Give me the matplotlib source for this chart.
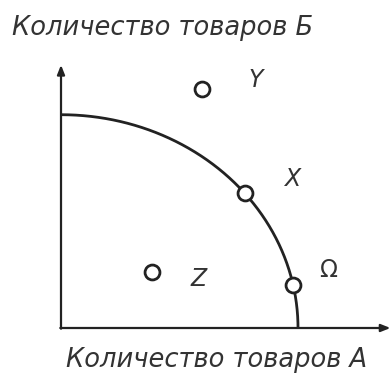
import matplotlib
matplotlib.use("Agg")
import matplotlib.pyplot as plt
import numpy as np

# Кривая производственных возможностей: максимум товара А и товара Б
max_a = 10.0
max_b = 9.0

# Точки на графике
point_names = ["Y", "X", "Z", "Ω"]
point_a = [5.95, 7.75, 3.85, 9.8]
point_b = [10.1, 5.7, 2.35, 1.8]

# Подписи осей
label_b = "Количество товаров Б"
label_a = "Количество товаров А"

ink = "#222222"

fig = plt.figure(figsize=(3.92, 3.74), dpi=100)
ax = fig.add_axes([0, 0, 1, 1])
ax.set_xlim(-2.574, 13.966)
ax.set_ylim(-1.941, 13.84)
ax.axis("off")

# Оси со стрелками
ax.annotate("", xy=(13.9, 0), xytext=(-0.03, 0),
            arrowprops=dict(arrowstyle="-|>,head_length=0.55,head_width=0.22",
                            color=ink, lw=1.6, shrinkA=0, shrinkB=0))
ax.annotate("", xy=(0, 11.1), xytext=(0, -0.03),
            arrowprops=dict(arrowstyle="-|>,head_length=0.55,head_width=0.22",
                            color=ink, lw=1.6, shrinkA=0, shrinkB=0))

# Граница производственных возможностей
t = np.linspace(0, np.pi / 2, 200)
ax.plot(max_a * np.sin(t), max_b * np.cos(t), color=ink, lw=2.0,
        solid_capstyle="butt", zorder=2)

# Точки
ax.scatter(point_a, point_b, s=115, facecolor="white", edgecolor=ink,
           linewidth=2.0, zorder=3)

offsets = {"Y": (39, 6), "X": (34, 10), "Z": (33, -5), "Ω": (25, 11)}
for name, a, b in zip(point_names, point_a, point_b):
    style = "normal" if name == "Ω" else "italic"
    ax.annotate(name, (a, b), xytext=offsets[name], textcoords="offset points",
                ha="center", va="center", fontsize=17, color="#333333",
                family="DejaVu Sans", style=style)

fig.text(12 / 392, 1 - 35 / 374, label_b, ha="left", va="baseline",
         fontsize=18.5, style="italic", family="DejaVu Sans", color="#333333")
fig.text(66 / 392, 1 - 367 / 374, label_a, ha="left", va="baseline",
         fontsize=18.5, style="italic", family="DejaVu Sans", color="#333333")

fig.savefig("out.png", dpi=100)
